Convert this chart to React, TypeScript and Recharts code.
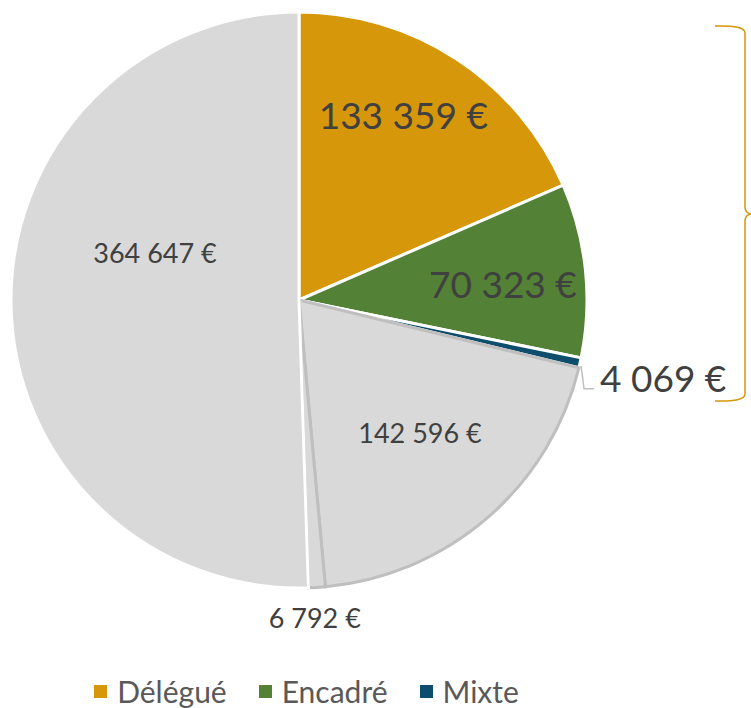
import React from "react";
import { PieChart, Pie, Cell, Legend } from "recharts";

const categories = ["Délégué", "Encadré", "Mixte", "Autre A", "Autre B", "Autre C"];
const values = [133359, 70323, 4069, 142596, 6792, 364647];
const inLegend = [true, true, true, false, false, false];

const colors = ["#D6970A", "#538135", "#0E4D6B", "#D9D9D9", "#D9D9D9", "#D9D9D9"];
const strokes = ["#FFFFFF", "#FFFFFF", "#FFFFFF", "#BFBFBF", "#BFBFBF", "#FFFFFF"];

// label layout: radius from center, fine offsets, font size
const labelLayout = [
  { r: 212, dx: -12, dy: -8, size: 37 },
  { r: 205, dx: 0, dy: 5, size: 37 },
  { r: 0, dx: 0, dy: 0, size: 37, leader: true },
  { r: 179, dx: 4, dy: -3, size: 27 },
  { r: 318, dx: -4, dy: 0, size: 27 },
  { r: 151, dx: 7, dy: -50, size: 27 },
];

const data = categories.map((name, i) => ({ name, value: values[i] }));

const fmt = (v: number) => String(v).replace(/\B(?=(\d{3})+(?!\d))/g, " ") + " €";
const RAD = Math.PI / 180;
const FONT = "Lato, 'Open Sans', sans-serif";

const renderLabel = (props: any) => {
  const { cx, cy, midAngle, outerRadius, index, value } = props;
  const L = labelLayout[index];
  if (L.leader) {
    const sx = cx + outerRadius * Math.cos(-midAngle * RAD);
    const sy = cy + outerRadius * Math.sin(-midAngle * RAD);
    return (
      <g>
        <path
          d={`M${sx + 1},${sy + 3} L${sx + 4},${sy + 26} L${sx + 14},${sy + 26}`}
          stroke="#BFBFBF"
          strokeWidth={1.5}
          fill="none"
        />
        <text
          x={sx + 20}
          y={sy + 15}
          textAnchor="start"
          dominantBaseline="central"
          fill="#404040"
          fontSize={L.size}
          fontFamily={FONT}
        >
          {fmt(value)}
        </text>
      </g>
    );
  }
  const x = cx + L.r * Math.cos(-midAngle * RAD) + L.dx;
  const y = cy + L.r * Math.sin(-midAngle * RAD) + L.dy;
  return (
    <text
      x={x}
      y={y}
      textAnchor="middle"
      dominantBaseline="central"
      fill="#404040"
      fontSize={L.size}
      fontFamily={FONT}
    >
      {fmt(value)}
    </text>
  );
};

const renderLegend = () => (
  <div
    style={{
      display: "flex",
      justifyContent: "center",
      alignItems: "center",
      fontFamily: FONT,
      fontSize: 30,
      lineHeight: "30px",
      height: 30,
      color: "#595959",
      paddingRight: 138,
    }}
  >
    {categories.map((c, i) =>
      inLegend[i] ? (
        <div key={c} style={{ display: "flex", alignItems: "center", margin: "0 16px", height: 30 }}>
          <span
            style={{ width: 13, height: 13, background: colors[i], display: "inline-block", marginRight: 10 }}
          />
          <span style={{ lineHeight: "30px" }}>{c}</span>
        </div>
      ) : null
    )}
  </div>
);

const Brace = () => (
  <svg
    width={751}
    height={708}
    style={{ position: "absolute", left: 0, top: 0, pointerEvents: "none" }}
  >
    <path
      d="M715,26 Q745,25 745,33 L745,207 Q745,213 751,214 Q745,215 745,221 L745,394 Q745,402 715,401"
      stroke="#D6970A"
      strokeWidth={1.5}
      fill="none"
    />
  </svg>
);

export default function App() {
  return (
    <div style={{ position: "absolute", left: 0, top: 0, width: 751, height: 708, background: "#fff" }}>
      <PieChart width={751} height={708} margin={{ top: 0, right: 0, bottom: 0, left: 0 }}>
        <Pie
          data={data}
          dataKey="value"
          nameKey="name"
          cx={299}
          cy={300}
          outerRadius={288}
          startAngle={90}
          endAngle={-270}
          isAnimationActive={false}
          label={renderLabel}
          labelLine={false}
        >
          {data.map((d, i) => (
            <Cell key={d.name} fill={colors[i]} stroke={strokes[i]} strokeWidth={3} />
          ))}
        </Pie>
        <Legend
          content={renderLegend}
          wrapperStyle={{ position: "absolute", top: 676, left: 0, width: 751, height: 30 }}
        />
      </PieChart>
      <Brace />
    </div>
  );
}
